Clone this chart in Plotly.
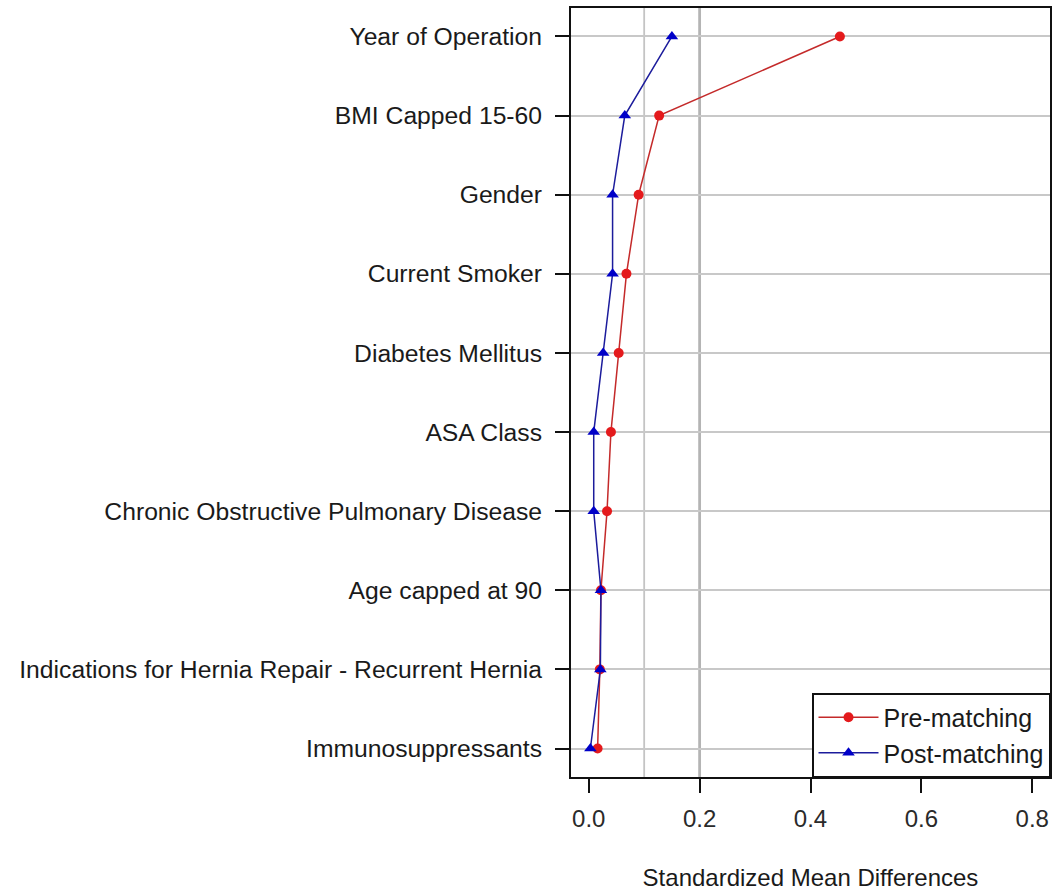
import plotly.graph_objects as go

categories = [
    "Year of Operation",
    "BMI Capped 15-60",
    "Gender",
    "Current Smoker",
    "Diabetes Mellitus",
    "ASA Class",
    "Chronic Obstructive Pulmonary Disease",
    "Age capped at 90",
    "Indications for Hernia Repair - Recurrent Hernia",
    "Immunosuppressants",
]
pre_matching = [0.453, 0.127, 0.090, 0.068, 0.054, 0.040, 0.033, 0.022, 0.020, 0.016]
post_matching = [0.150, 0.065, 0.043, 0.043, 0.026, 0.009, 0.009, 0.022, 0.021, 0.003]
x_ticks = [0.0, 0.2, 0.4, 0.6, 0.8]
ref_lines = [0.1, 0.2]

FONT = "Liberation Sans, Arial, sans-serif"

fig = go.Figure()
fig.add_trace(go.Scatter(
    x=pre_matching, y=categories, name="Pre-matching", mode="lines+markers",
    line=dict(color="#c42a2a", width=1.5),
    marker=dict(symbol="circle", size=10, color="#e41a1c"),
))
fig.add_trace(go.Scatter(
    x=post_matching, y=categories, name="Post-matching", mode="lines+markers",
    line=dict(color="#1c1c9c", width=1.5),
    marker=dict(symbol="triangle-up", size=11, color="#0000c8"),
))

for v, w, c in zip(ref_lines, [1.8, 2.8], ["#c4c4c4", "#b4b4b4"]):
    fig.add_shape(type="line", xref="x", yref="paper", x0=v, x1=v, y0=0, y1=1,
                  line=dict(color=c, width=w), layer="below")

n = len(categories)
fig.update_layout(
    width=1053, height=893,
    margin=dict(l=571, r=1, t=8, b=116),
    paper_bgcolor="white", plot_bgcolor="white",
    font=dict(family=FONT, size=24, color="#1a1a1a"),
    showlegend=True,
    legend=dict(
        x=1, y=0, xanchor="right", yanchor="bottom",
        bordercolor="#111111", borderwidth=1.5, bgcolor="white",
        font=dict(size=25, color="#1a1a1a"),
        tracegroupgap=0, itemwidth=60,
    ),
)
fig.update_xaxes(
    range=[-0.032, 0.832],
    tickvals=x_ticks, tickformat=".1f",
    ticks="outside", ticklen=14, tickwidth=1.5, tickcolor="#111111",
    ticklabelstandoff=5,
    showgrid=False, zeroline=False,
    showline=True, linecolor="#111111", linewidth=2, mirror=True,
    title=dict(text="Standardized Mean Differences", standoff=38,
               font=dict(size=24, color="#1a1a1a")),
    tickfont=dict(size=24, color="#2a2a2a"),
)
fig.update_yaxes(
    type="category",
    categoryorder="array", categoryarray=categories[::-1],
    range=[-0.36, n - 1 + 0.36],
    ticks="outside", ticklen=14, tickwidth=1.5, tickcolor="#111111",
    ticklabelstandoff=8,
    showgrid=True, gridcolor="#c8c8c8", gridwidth=2,
    zeroline=False,
    showline=True, linecolor="#111111", linewidth=2, mirror=True,
    tickfont=dict(size=24.7, color="#1a1a1a"),
)

fig.write_html("out.html")
